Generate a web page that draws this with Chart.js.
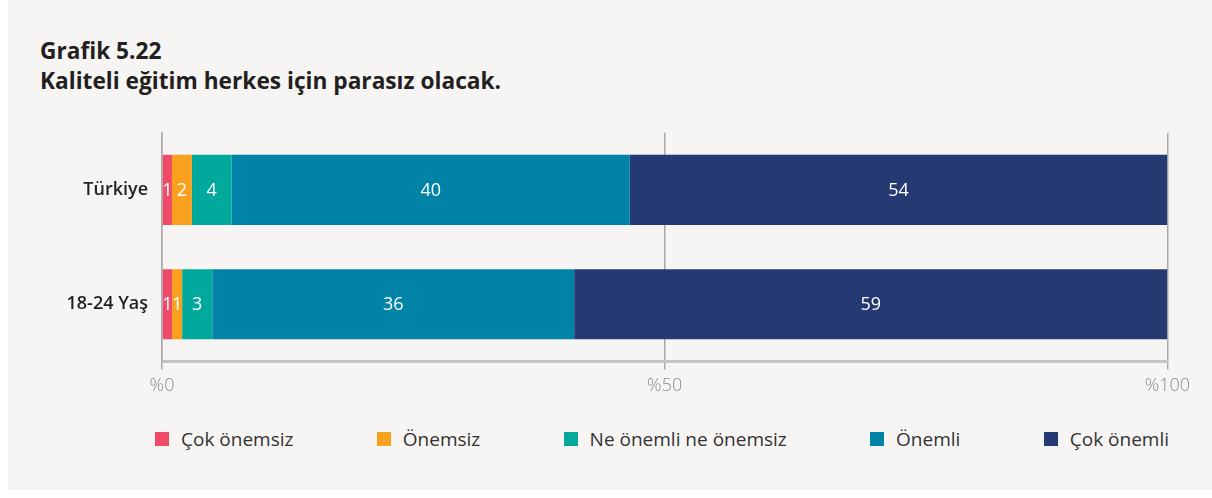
<!DOCTYPE html>
<html lang="tr">
<head>
<meta charset="utf-8">
<script src="https://cdn.jsdelivr.net/npm/chart.js@4"></script>
<style>
    body { margin: 0; background: #fff; font-family: "Open Sans", sans-serif; }
    #panel { position: absolute; left: 8px; top: 0; width: 1204px; height: 490px; background: #f6f5f3; }
    #title { position: absolute; left: 32px; top: 36px; margin: 0; font-size: 22.7px; font-weight: 700; line-height: 30px; color: #231f20; }
    #chartBox { position: absolute; left: 24px; top: 116px; width: 1164px; height: 287px; }
    #legend { position: absolute; left: 147px; top: 426px; width: 1014px; display: flex; justify-content: space-between; font-size: 19px; color: #333; }
    #legend span { display: flex; align-items: center; }
    #legend i { display: inline-block; width: 14px; height: 14px; margin-right: 12px; }
</style>
</head>
<body>
<div id="panel">
    <h1 id="title">Grafik 5.22<br>Kaliteli eğitim herkes için parasız olacak.</h1>
    <div id="chartBox"><canvas id="chart"></canvas></div>
    <div id="legend"></div>
</div>
<script>
var groups = ['Türkiye', '18-24 Yaş'];
var answers = ['Çok önemsiz', 'Önemsiz', 'Ne önemli ne önemsiz', 'Önemli', 'Çok önemli'];
var colors = ['#ef4a68', '#f8a11e', '#00a99c', '#0083a7', '#253a73'];
var cokOnemsiz = [1, 1];
var onemsiz = [2, 1];
var neOnemli = [4, 3];
var onemli = [40, 36];
var cokOnemli = [54, 59];
var tickValues = [0, 50, 100];

var series = [cokOnemsiz, onemsiz, neOnemli, onemli, cokOnemli];

// each row is drawn as a share of its own total so the bars end at %100
var rowTotals = groups.map(function (g, i) {
    return series.reduce(function (s, arr) { return s + arr[i]; }, 0);
});

var datasets = series.map(function (arr, k) {
    return {
        label: answers[k],
        data: arr.map(function (v, i) { return v / rowTotals[i] * 100; }),
        raw: arr,
        backgroundColor: colors[k],
        barPercentage: 0.614,
        categoryPercentage: 1
    };
});

var valueLabels = {
    id: 'valueLabels',
    afterDatasetsDraw: function (chart) {
        var ctx = chart.ctx;
        ctx.save();
        ctx.fillStyle = '#fff';
        ctx.font = '18px "Open Sans"';
        ctx.textAlign = 'center';
        ctx.textBaseline = 'middle';
        chart.data.datasets.forEach(function (ds, k) {
            chart.getDatasetMeta(k).data.forEach(function (bar, i) {
                var mid = (bar.x + bar.base) / 2;
                ctx.fillText(ds.raw[i], mid, bar.y + 1);
            });
        });
        ctx.restore();
    }
};

new Chart(document.getElementById('chart'), {
    type: 'bar',
    data: { labels: groups, datasets: datasets },
    plugins: [valueLabels],
    options: {
        indexAxis: 'y',
        responsive: true,
        maintainAspectRatio: false,
        animation: false,
        layout: { padding: { right: 22 } },
        plugins: { legend: { display: false }, tooltip: { enabled: false } },
        scales: {
            x: {
                stacked: true,
                min: 0,
                max: 100,
                afterBuildTicks: function (scale) {
                    scale.ticks = tickValues.map(function (v) { return { value: v }; });
                },
                grid: { color: '#aaa', lineWidth: 1.5, tickLength: 8, drawTicks: true },
                border: { display: true, color: '#c4c4c4', width: 3 },
                ticks: {
                    color: '#8c8c8c',
                    font: { family: 'Open Sans', size: 18, weight: 300 },
                    padding: 6,
                    maxRotation: 0,
                    callback: function (v) { return '%' + v; }
                }
            },
            y: {
                stacked: true,
                afterFit: function (scale) { scale.width = 130; },
                grid: { display: false },
                border: { display: true, color: '#aaa', width: 1.5 },
                ticks: {
                    color: '#231f20',
                    font: { family: 'Open Sans', size: 18, weight: 600 },
                    padding: 6
                }
            }
        }
    }
});

var legend = document.getElementById('legend');
answers.forEach(function (name, k) {
    var item = document.createElement('span');
    item.innerHTML = '<i style="background:' + colors[k] + '"></i>' + name;
    legend.appendChild(item);
});
</script>
</body>
</html>
